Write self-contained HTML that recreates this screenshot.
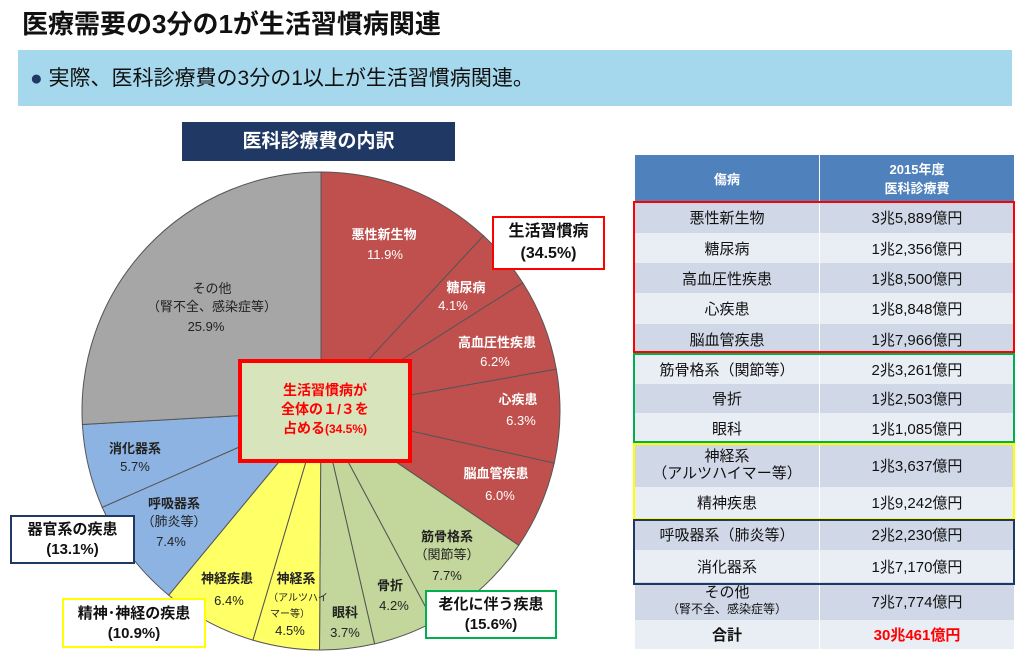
<!DOCTYPE html>
<html><head><meta charset="utf-8"><style>
body{margin:0;width:1024px;height:664px;background:#fff;position:relative;overflow:hidden;font-family:"Liberation Sans","Noto Sans CJK JP",sans-serif}
.a{position:absolute}
.t{font-weight:bold;font-size:26px;left:22px;top:4px;color:#111}
.band{left:18px;top:50px;width:994px;height:56px;background:#a5d8ed}
.box{position:absolute;background:#fff;text-align:center;font-weight:bold;font-size:15px;line-height:20px;color:#111}
table{border-collapse:collapse;font-size:15px;color:#111}
td{text-align:center;padding:0;border-right:1px solid #fff}
</style></head><body>
<div class="a t">医療需要の3分の1が生活習慣病関連</div>
<div class="a band"></div>
<div class="a" style="left:30px;top:62px;font-size:21px;color:#111"><span style="color:#1f3864">●</span> 実際、医科診療費の3分の1以上が生活習慣病関連。</div>
<div class="a" style="left:182px;top:122px;width:273px;height:39px;background:#1f3864;color:#fff;font-weight:bold;font-size:19px;text-align:center;line-height:39px">医科診療費の内訳</div>
<svg class="a" style="left:0;top:0" width="1024" height="664">
<g stroke="#555" stroke-width="1">
<path d="M321,411 L321,172 A239,239 0 0 1 483.5,235.8Z" fill="#c0504d"/>
<path d="M321,411 L483.5,235.8 A239,239 0 0 1 522.8,282.9Z" fill="#c0504d"/>
<path d="M321,411 L522.8,282.9 A239,239 0 0 1 556.3,369.2Z" fill="#c0504d"/>
<path d="M321,411 L556.3,369.2 A239,239 0 0 1 554.2,463.1Z" fill="#c0504d"/>
<path d="M321,411 L554.2,463.1 A239,239 0 0 1 518.7,545.3Z" fill="#c0504d"/>
<path d="M321,411 L518.7,545.3 A239,239 0 0 1 433.5,621.9Z" fill="#c3d69b"/>
<path d="M321,411 L433.5,621.9 A239,239 0 0 1 374.6,643.9Z" fill="#c3d69b"/>
<path d="M321,411 L374.6,643.9 A239,239 0 0 1 319.5,650Z" fill="#c3d69b"/>
<path d="M321,411 L319.5,650 A239,239 0 0 1 252.9,640.1Z" fill="#ffff66"/>
<path d="M321,411 L252.9,640.1 A239,239 0 0 1 168.7,595.2Z" fill="#ffff66"/>
<path d="M321,411 L168.7,595.2 A239,239 0 0 1 102.2,507.3Z" fill="#8db3e2"/>
<path d="M321,411 L102.2,507.3 A239,239 0 0 1 82.4,424.5Z" fill="#8db3e2"/>
<path d="M321,411 L82.4,424.5 A239,239 0 0 1 321,172Z" fill="#a6a6a6"/>
</g>
<g font-size="13" text-anchor="middle" font-family="Liberation Sans,Noto Sans CJK JP,sans-serif">
<g fill="#fff" font-weight="bold"><text x="384" y="239">悪性新生物</text><text x="466" y="292">糖尿病</text><text x="497" y="347">高血圧性疾患</text><text x="518" y="404">心疾患</text><text x="496" y="478">脳血管疾患</text></g>
<g fill="#fff"><text x="385" y="259">11.9%</text><text x="453" y="310">4.1%</text><text x="495" y="366">6.2%</text><text x="521" y="425">6.3%</text><text x="500" y="500">6.0%</text></g>
<g fill="#222"><text x="212" y="293">その他</text><text x="212" y="311">（腎不全、感染症等）</text><text x="206" y="331">25.9%</text>
<text x="135" y="453" font-weight="bold">消化器系</text><text x="135" y="471">5.7%</text>
<text x="174" y="508" font-weight="bold">呼吸器系</text><text x="174" y="526">（肺炎等）</text><text x="171" y="546">7.4%</text>
<text x="227" y="583" font-weight="bold">神経疾患</text><text x="229" y="605">6.4%</text>
<text x="296" y="583" font-weight="bold">神経系</text><text x="298" y="601" font-size="10">（アルツハイ</text><text x="290" y="617" font-size="10">マー等）</text><text x="290" y="635">4.5%</text>
<text x="345" y="617" font-weight="bold">眼科</text><text x="345" y="637">3.7%</text>
<text x="390" y="590" font-weight="bold">骨折</text><text x="394" y="610">4.2%</text>
<text x="447" y="541" font-weight="bold">筋骨格系</text><text x="447" y="559">（関節等）</text><text x="447" y="580">7.7%</text></g>
</g>
</svg>
<div class="box" style="left:238px;top:359px;width:166px;height:96px;background:#d7e4bc;border:4px solid #f00;color:#f00;font-size:14px;line-height:19px;padding-top:0"><div style="margin-top:18px">生活習慣病が<br>全体の１/３を<br>占める<span style="font-size:12px">(34.5%)</span></div></div>
<div class="box" style="left:492px;top:216px;width:109px;border:2px solid #f00;font-size:16px;line-height:22px;padding-top:3px;box-sizing:content-box;height:47px">生活習慣病<br>(34.5%)</div>
<div class="box" style="left:10px;top:515px;width:121px;height:42px;border:2px solid #1f3864;padding-top:3px">器官系の疾患<br>(13.1%)</div>
<div class="box" style="left:62px;top:598px;width:140px;height:42px;border:2px solid #ff0;padding-top:4px">精神･神経の疾患<br>(10.9%)</div>
<div class="box" style="left:425px;top:590px;width:128px;height:42px;border:2px solid #00b050;padding-top:3px">老化に伴う疾患<br>(15.6%)</div>
<table class="a" style="left:635px;top:155px;width:380px">
<tr style="height:46px;background:#4f81bd;color:#fff;font-weight:bold;font-size:13px"><td style="width:184px">傷病</td><td>2015年度<br>医科診療費</td></tr>
<tr style="height:32px;background:#d0d8e8"><td>悪性新生物</td><td>3兆5,889億円</td></tr>
<tr style="height:30px;background:#e9edf4"><td>糖尿病</td><td>1兆2,356億円</td></tr>
<tr style="height:30px;background:#d0d8e8"><td>高血圧性疾患</td><td>1兆8,500億円</td></tr>
<tr style="height:31px;background:#e9edf4"><td>心疾患</td><td>1兆8,848億円</td></tr>
<tr style="height:31px;background:#d0d8e8"><td>脳血管疾患</td><td>1兆7,966億円</td></tr>
<tr style="height:29px;background:#e9edf4"><td>筋骨格系（関節等）</td><td>2兆3,261億円</td></tr>
<tr style="height:29px;background:#d0d8e8"><td>骨折</td><td>1兆2,503億円</td></tr>
<tr style="height:30px;background:#e9edf4"><td>眼科</td><td>1兆1,085億円</td></tr>
<tr style="height:44px;background:#d0d8e8"><td style="line-height:17px">神経系<br>（アルツハイマー等）</td><td>1兆3,637億円</td></tr>
<tr style="height:31px;background:#e9edf4"><td>精神疾患</td><td>1兆9,242億円</td></tr>
<tr style="height:32px;background:#d0d8e8"><td>呼吸器系（肺炎等）</td><td>2兆2,230億円</td></tr>
<tr style="height:32px;background:#e9edf4"><td>消化器系</td><td>1兆7,170億円</td></tr>
<tr style="height:38px;background:#d0d8e8"><td style="line-height:16px">その他<br><span style="font-size:12px">（腎不全、感染症等）</span></td><td>7兆7,774億円</td></tr>
<tr style="height:29px;background:#e9edf4;font-weight:bold"><td>合計</td><td style="color:#f00">30兆461億円</td></tr>
</table>
<div class="a" style="left:633px;top:201px;width:378px;height:148px;border:2px solid #f00"></div>
<div class="a" style="left:633px;top:353px;width:378px;height:86px;border:2px solid #00b050"></div>
<div class="a" style="left:633px;top:443px;width:378px;height:73px;border:2px solid #ff0"></div>
<div class="a" style="left:633px;top:519px;width:378px;height:62px;border:2px solid #1f3864"></div>
</body></html>
